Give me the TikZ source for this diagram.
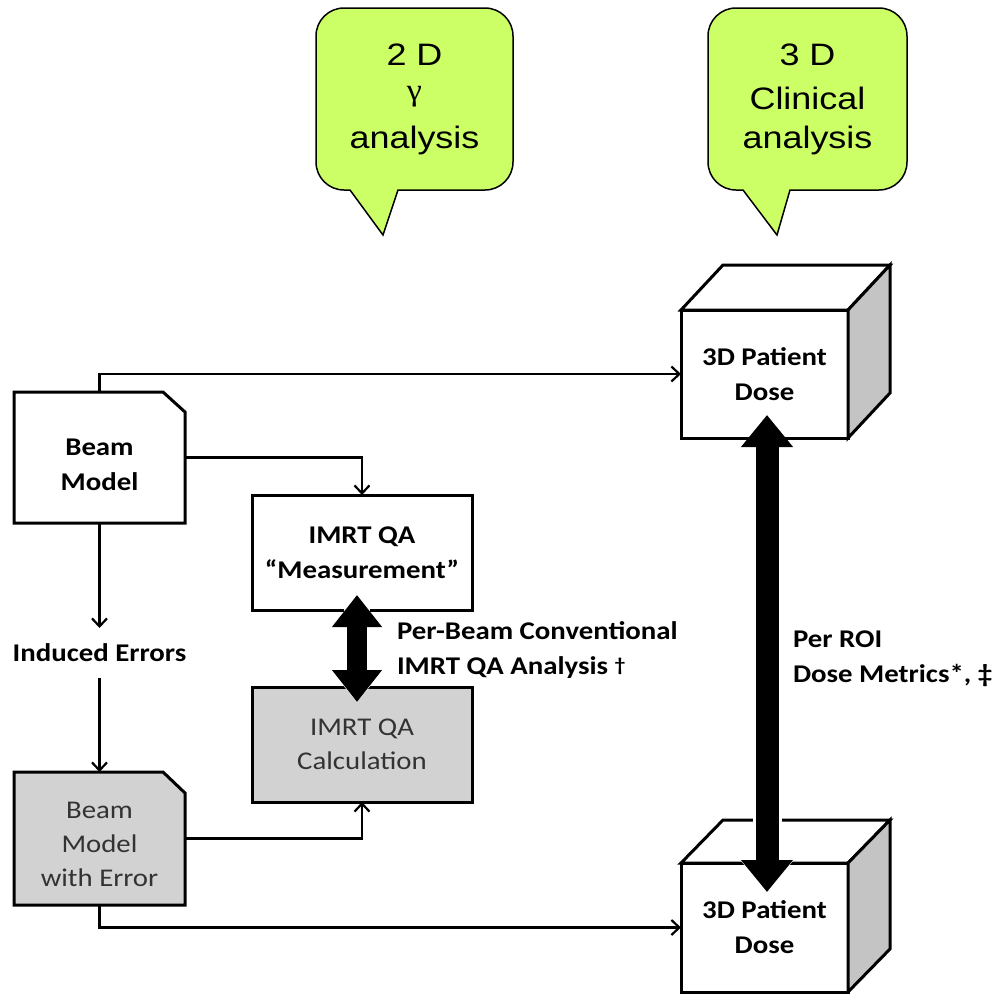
\documentclass[tikz,border=0pt]{standalone}
\usepackage{fontspec}
\setmainfont{Carlito}
\newfontfamily\boxfont{Carlito}[FakeStretch=1.13]
\newfontfamily\bubfont{Liberation Sans}[FakeStretch=1.16]
\newfontfamily\greekfont{Liberation Serif}[FakeStretch=1.1]
\usetikzlibrary{arrows.meta,calc}
\definecolor{bubgreen}{HTML}{CCFF66}
\definecolor{boxgray}{HTML}{D2D2D2}
\definecolor{sidegray}{HTML}{C4C4C4}
\definecolor{softtext}{HTML}{333333}
\begin{document}
\begin{tikzpicture}[x=1pt,y=-1pt,
  conn/.style={line width=2.2pt, line cap=butt, -{Straight Barb[length=8pt,width=15pt]}},
  boxline/.style={line width=3pt, line join=miter},
  txt/.style={align=center, font=\boxfont\bfseries\fontsize{25.5}{35}\selectfont, inner sep=0pt, outer sep=0pt},
  softtxt/.style={txt, font=\boxfont\fontsize{25.5}{34}\selectfont, text=softtext},
  qabox/.style={boxline, draw, minimum width=220pt, minimum height=115pt, outer sep=0pt},
  cubefront/.style={boxline, draw, fill=white, minimum width=167pt, minimum height=128pt, outer sep=0pt},
  model/.style={minimum width=171pt, outer sep=0pt, inner sep=0pt},
  bubble/.style={draw, line width=1.5pt, fill=bubgreen},
  bubtxt/.style={font=\bubfont\fontsize{31}{36}\selectfont, inner sep=0pt},
  bigarrow/.style={line width=#1pt, preaction={draw=white, line width=#1pt+6pt, -{Triangle[length=36pt,width=58pt]}}},
]
\useasboundingbox (0,0) rectangle (997,994);

% speech bubbles
\draw[bubble] (350,190) -- (383,235) -- (398,190) {[rounded corners=28pt] -- (513,190) -- (513,8) -- (316,8) -- (316,190)} -- cycle;
\node[bubtxt] (b1a) at (414.5,55) {2 D};
\node[bubtxt, font=\greekfont\fontsize{31}{34}\selectfont] (b1b) at (414.5,97) {γ};
\node[bubtxt] (b1c) at (414.5,140) {analysis};

\draw[bubble] (743,190) -- (777,235) -- (790,190) {[rounded corners=28pt] -- (907,190) -- (907,8) -- (708,8) -- (708,190)} -- cycle;
\node[bubtxt] (b2a) at (807.5,55) {3 D};
\node[bubtxt] (b2b) at (807.5,98) {Clinical};
\node[bubtxt] (b2c) at (807.5,140) {analysis};

% Beam model (chamfered)
\node[model, minimum height=131pt] (bm) at (99.5,457.5) {};
\filldraw[boxline, fill=white] (bm.south west) -- (bm.north west) -- ($(bm.north east)+(-22,0)$) -- ($(bm.north east)+(0,20)$) -- (bm.south east) -- cycle;
\node[txt] (bmt) at (99.5,465) {Beam\\Model};

\node[model, minimum height=133pt] (bme) at (99.5,838.5) {};
\filldraw[boxline, fill=boxgray] (bme.south west) -- (bme.north west) -- ($(bme.north east)+(-22,0)$) -- ($(bme.north east)+(0,21)$) -- (bme.south east) -- cycle;
\node[softtxt] (bmet) at (99.5,844) {Beam\\Model\\with Error};

\node[txt, minimum height=50pt] (ie) at (99.5,653) {Induced Errors};

% IMRT QA boxes
\node[qabox, fill=white, txt] (meas) at (362,552.5) {IMRT QA\\“Measurement”};
\node[qabox, fill=boxgray, softtxt] (calc) at (362,744.5) {IMRT QA\\Calculation};

% cubes
\node[cubefront] (pd1) at (764.5,374) {};
\filldraw[boxline, fill=white] (pd1.north west) -- ++(42,-45) -- ++(167,0) -- (pd1.north east) -- cycle;
\filldraw[boxline, fill=sidegray] (pd1.north east) -- ++(42,-45) -- ++(0,128) -- (pd1.south east) -- cycle;
\node[txt] (pd1t) at (764.5,374.5) {3D Patient\\Dose};

\node[cubefront, minimum height=129pt] (pd2) at (764.5,927.5) {};
\filldraw[boxline, fill=white] (pd2.north west) -- ++(42,-43) -- ++(167,0) -- (pd2.north east) -- cycle;
\filldraw[boxline, fill=sidegray] (pd2.north east) -- ++(42,-43) -- ++(0,129) -- (pd2.south east) -- cycle;
\node[txt] (pd2t) at (764.5,927.5) {3D Patient\\Dose};

% labels
\node[txt, anchor=west, align=left] (lab1) at (397,650.5) {Per-Beam Conventional\\IMRT QA Analysis \raisebox{3pt}{\fontsize{19}{19}\selectfont †}};
\node[txt, anchor=west, align=left] (lab2) at (793,659) {Per ROI\\Dose Metrics*, ‡};

% connectors
\draw[conn] (bm.north) |- (pd1.west);
\draw[conn] (bm.east) -| (meas.north);
\draw[conn] (bm.south) -- (ie.north);
\draw[conn] (ie.south) -- (bme.north);
\draw[conn] (bme.east) -| (calc.south);
\draw[conn] (bme.south) |- (pd2.west);

% big double arrows
\coordinate (a1) at (357,595);
\coordinate (a2) at (357,702);
\draw[bigarrow=20, {Triangle[length=32pt,width=48pt]}-{Triangle[length=32pt,width=48pt]}] (a1) -- (a2);
\coordinate (c1) at (767,415);
\coordinate (c2) at (767,892);
\draw[bigarrow=23, {Triangle[length=32pt,width=50pt]}-{Triangle[length=32pt,width=50pt]}] (c1) -- (c2);
\end{tikzpicture}
\end{document}
